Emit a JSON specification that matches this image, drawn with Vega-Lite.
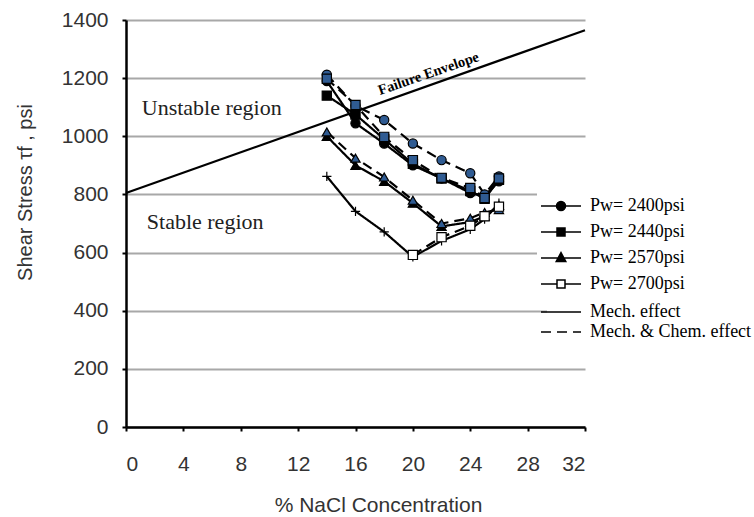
{
  "$schema": "https://vega.github.io/schema/vega-lite/v6.json",
  "autosize": {"type": "none"},
  "padding": {"left": 126, "top": 20, "right": 169, "bottom": 90},
  "width": 459,
  "height": 407,
  "background": "white",
  "config": {
    "view": {"stroke": null},
    "font": "Liberation Sans"
  },
  "layer": [
    {
      "data": {"values": [{"x": 0, "y": 805}, {"x": 32, "y": 1365}]},
      "mark": {"type": "line", "color": "black", "strokeWidth": 2.2},
      "encoding": {
        "x": {
          "field": "x", "type": "quantitative",
          "scale": {"domain": [0, 32], "nice": false},
          "axis": {
            "values": [0, 4, 8, 12, 16, 20, 24, 28, 32],
            "grid": false,
            "domainColor": "black", "domainWidth": 2.5,
            "tickColor": "black", "tickWidth": 2, "tickSize": 4,
            "labelFont": "Liberation Sans", "labelFontSize": 21, "labelColor": "#333", "labelPadding": 22,
            "title": "% NaCl Concentration",
            "titleFont": "Liberation Sans", "titleFontSize": 21, "titleFontWeight": "normal", "titleColor": "#333",
            "titleX": 252, "titleY": 78, "titleBaseline": "middle"
          }
        },
        "y": {
          "field": "y", "type": "quantitative",
          "scale": {"domain": [0, 1400], "nice": false},
          "axis": {
            "values": [0, 200, 400, 600, 800, 1000, 1200, 1400],
            "format": "d",
            "grid": true, "gridColor": "#a8a8a8", "gridWidth": 1.8,
            "domainColor": "black", "domainWidth": 2.5,
            "tickColor": "black", "tickWidth": 2, "tickSize": 4,
            "labelFont": "Liberation Sans", "labelFontSize": 21, "labelColor": "#333", "labelPadding": 14,
            "title": "Shear Stress  τf , psi",
            "titleFont": "Liberation Sans", "titleFontSize": 20, "titleFontWeight": "normal", "titleColor": "#333",
            "titleX": -101, "titleY": 172, "titleBaseline": "middle", "titleAngle": -90
          }
        }
      }
    },
    {
      "data": {"name": "series"},
      "mark": {"type": "line", "strokeWidth": 2.2},
      "encoding": {
        "x": {"field": "x", "type": "quantitative"},
        "y": {"field": "y", "type": "quantitative"},
        "detail": {"field": "series"},
        "color": {
          "field": "pressure", "type": "nominal",
          "scale": {"domain": ["Pw= 2400psi", "Pw= 2440psi", "Pw= 2570psi", "Pw= 2700psi"], "range": ["black", "black", "black", "black"]},
          "legend": {
            "orient": "none", "legendX": 411, "legendY": 162,
            "title": null,
            "symbolSize": 400, "symbolStrokeWidth": 1.5,
            "labelFont": "Liberation Serif", "labelFontSize": 18, "labelColor": "black", "labelLimit": 300,
            "rowPadding": 6, "labelOffset": 18,
            "fillColor": "white", "padding": 13,
            "encode": {
              "symbols": {
                "update": {
                  "shape": {"signal": "datum.value === 'Pw= 2400psi' ? 'M-2,0H2M0.45,0A0.45,0.45,0,1,1,-0.45,0A0.45,0.45,0,1,1,0.45,0Z' : datum.value === 'Pw= 2440psi' ? 'M-2,0H2M-0.4,-0.4H0.4V0.4H-0.4Z' : datum.value === 'Pw= 2570psi' ? 'M-2,0H2M0,-0.54L0.48,0.36H-0.48Z' : 'M-2,0H-0.4M0.4,0H2M-0.4,-0.4H0.4V0.4H-0.4Z'"},
                  "fill": {"signal": "datum.value === 'Pw= 2700psi' ? 'white' : 'black'"},
                  "stroke": {"value": "black"},
                  "strokeWidth": {"value": 1.5},
                  "opacity": {"value": 1}
                }
              }
            }
          }
        },
        "strokeDash": {
          "field": "effect", "type": "nominal",
          "scale": {"domain": ["Mech. effect", "Mech. & Chem. effect"], "range": [[1, 0], [10, 6]]},
          "legend": {
            "orient": "none", "legendX": 421, "legendY": 278,
            "title": null,
            "symbolType": "M-2,0H2", "symbolSize": 400, "symbolStrokeWidth": 1.6, "symbolStrokeColor": "black", "symbolFillColor": "transparent",
            "labelFont": "Liberation Serif", "labelFontSize": 18, "labelColor": "black", "labelLimit": 300,
            "rowPadding": 0, "labelOffset": 18,
            "fillColor": "white", "padding": 3
          }
        }
      }
    },
    {
      "data": {"name": "series"},
      "mark": {"type": "point", "filled": true, "size": 85, "stroke": "black", "strokeWidth": 1.2, "opacity": 1},
      "encoding": {
        "x": {"field": "x", "type": "quantitative"},
        "y": {"field": "y", "type": "quantitative"},
        "shape": {
          "field": "series", "type": "nominal", "legend": null,
          "scale": {
            "domain": ["2400 Mech", "2400 MC", "2440 Mech", "2440 MC", "2570 Mech", "2570 MC", "2700 Mech", "2700 MC"],
            "range": ["circle", "circle", "square", "square", "triangle-up", "triangle-up", "M-1,0H1M0,-1V1", "square"]
          }
        },
        "fill": {
          "field": "series", "type": "nominal", "legend": null,
          "scale": {
            "domain": ["2400 Mech", "2400 MC", "2440 Mech", "2440 MC", "2570 Mech", "2570 MC", "2700 Mech", "2700 MC"],
            "range": ["black", "#2f5b92", "black", "#2f5b92", "black", "#2f5b92", "transparent", "white"]
          }
        }
      }
    },
    {
      "data": {"values": [{"label": "Unstable  region", "x": 1.1, "y": 1097}, {"label": "Stable  region", "x": 1.45, "y": 705}]},
      "mark": {"type": "text", "align": "left", "baseline": "middle", "font": "Liberation Serif", "fontSize": 22, "color": "#222"},
      "encoding": {
        "x": {"field": "x", "type": "quantitative"},
        "y": {"field": "y", "type": "quantitative"},
        "text": {"field": "label"}
      }
    },
    {
      "data": {"values": [{"label": "Failure Envelope", "x": 21.1, "y": 1214}]},
      "mark": {"type": "text", "align": "center", "baseline": "middle", "font": "Liberation Serif", "fontSize": 14.5, "fontWeight": "bold", "angle": -19, "color": "black"},
      "encoding": {
        "x": {"field": "x", "type": "quantitative"},
        "y": {"field": "y", "type": "quantitative"},
        "text": {"field": "label"}
      }
    }
  ],
  "datasets": {
    "series": [
      {"series": "2400 Mech", "pressure": "Pw= 2400psi", "effect": "Mech. effect", "x": 14, "y": 1190},
      {"series": "2400 Mech", "pressure": "Pw= 2400psi", "effect": "Mech. effect", "x": 16, "y": 1045},
      {"series": "2400 Mech", "pressure": "Pw= 2400psi", "effect": "Mech. effect", "x": 18, "y": 975},
      {"series": "2400 Mech", "pressure": "Pw= 2400psi", "effect": "Mech. effect", "x": 20, "y": 900},
      {"series": "2400 Mech", "pressure": "Pw= 2400psi", "effect": "Mech. effect", "x": 22, "y": 855},
      {"series": "2400 Mech", "pressure": "Pw= 2400psi", "effect": "Mech. effect", "x": 24, "y": 805},
      {"series": "2400 Mech", "pressure": "Pw= 2400psi", "effect": "Mech. effect", "x": 25, "y": 795},
      {"series": "2400 Mech", "pressure": "Pw= 2400psi", "effect": "Mech. effect", "x": 26, "y": 845},
      {"series": "2440 Mech", "pressure": "Pw= 2440psi", "effect": "Mech. effect", "x": 14, "y": 1140},
      {"series": "2440 Mech", "pressure": "Pw= 2440psi", "effect": "Mech. effect", "x": 16, "y": 1075},
      {"series": "2440 Mech", "pressure": "Pw= 2440psi", "effect": "Mech. effect", "x": 18, "y": 990},
      {"series": "2440 Mech", "pressure": "Pw= 2440psi", "effect": "Mech. effect", "x": 20, "y": 905},
      {"series": "2440 Mech", "pressure": "Pw= 2440psi", "effect": "Mech. effect", "x": 22, "y": 855},
      {"series": "2440 Mech", "pressure": "Pw= 2440psi", "effect": "Mech. effect", "x": 24, "y": 812},
      {"series": "2440 Mech", "pressure": "Pw= 2440psi", "effect": "Mech. effect", "x": 25, "y": 785},
      {"series": "2440 Mech", "pressure": "Pw= 2440psi", "effect": "Mech. effect", "x": 26, "y": 850},
      {"series": "2570 Mech", "pressure": "Pw= 2570psi", "effect": "Mech. effect", "x": 14, "y": 1000},
      {"series": "2570 Mech", "pressure": "Pw= 2570psi", "effect": "Mech. effect", "x": 16, "y": 900},
      {"series": "2570 Mech", "pressure": "Pw= 2570psi", "effect": "Mech. effect", "x": 18, "y": 845},
      {"series": "2570 Mech", "pressure": "Pw= 2570psi", "effect": "Mech. effect", "x": 20, "y": 770},
      {"series": "2570 Mech", "pressure": "Pw= 2570psi", "effect": "Mech. effect", "x": 22, "y": 690},
      {"series": "2570 Mech", "pressure": "Pw= 2570psi", "effect": "Mech. effect", "x": 24, "y": 705},
      {"series": "2570 Mech", "pressure": "Pw= 2570psi", "effect": "Mech. effect", "x": 25, "y": 725},
      {"series": "2570 Mech", "pressure": "Pw= 2570psi", "effect": "Mech. effect", "x": 26, "y": 762},
      {"series": "2700 Mech", "pressure": "Pw= 2700psi", "effect": "Mech. effect", "x": 14, "y": 862},
      {"series": "2700 Mech", "pressure": "Pw= 2700psi", "effect": "Mech. effect", "x": 16, "y": 742},
      {"series": "2700 Mech", "pressure": "Pw= 2700psi", "effect": "Mech. effect", "x": 18, "y": 671},
      {"series": "2700 Mech", "pressure": "Pw= 2700psi", "effect": "Mech. effect", "x": 20, "y": 585},
      {"series": "2700 Mech", "pressure": "Pw= 2700psi", "effect": "Mech. effect", "x": 22, "y": 640},
      {"series": "2700 Mech", "pressure": "Pw= 2700psi", "effect": "Mech. effect", "x": 24, "y": 680},
      {"series": "2700 Mech", "pressure": "Pw= 2700psi", "effect": "Mech. effect", "x": 25, "y": 715},
      {"series": "2700 Mech", "pressure": "Pw= 2700psi", "effect": "Mech. effect", "x": 26, "y": 770},
      {"series": "2400 MC", "pressure": "Pw= 2400psi", "effect": "Mech. & Chem. effect", "x": 14, "y": 1212},
      {"series": "2400 MC", "pressure": "Pw= 2400psi", "effect": "Mech. & Chem. effect", "x": 16, "y": 1105},
      {"series": "2400 MC", "pressure": "Pw= 2400psi", "effect": "Mech. & Chem. effect", "x": 18, "y": 1056},
      {"series": "2400 MC", "pressure": "Pw= 2400psi", "effect": "Mech. & Chem. effect", "x": 20, "y": 975},
      {"series": "2400 MC", "pressure": "Pw= 2400psi", "effect": "Mech. & Chem. effect", "x": 22, "y": 918},
      {"series": "2400 MC", "pressure": "Pw= 2400psi", "effect": "Mech. & Chem. effect", "x": 24, "y": 873},
      {"series": "2400 MC", "pressure": "Pw= 2400psi", "effect": "Mech. & Chem. effect", "x": 25, "y": 800},
      {"series": "2400 MC", "pressure": "Pw= 2400psi", "effect": "Mech. & Chem. effect", "x": 26, "y": 862},
      {"series": "2440 MC", "pressure": "Pw= 2440psi", "effect": "Mech. & Chem. effect", "x": 14, "y": 1198},
      {"series": "2440 MC", "pressure": "Pw= 2440psi", "effect": "Mech. & Chem. effect", "x": 16, "y": 1108},
      {"series": "2440 MC", "pressure": "Pw= 2440psi", "effect": "Mech. & Chem. effect", "x": 18, "y": 998},
      {"series": "2440 MC", "pressure": "Pw= 2440psi", "effect": "Mech. & Chem. effect", "x": 20, "y": 918},
      {"series": "2440 MC", "pressure": "Pw= 2440psi", "effect": "Mech. & Chem. effect", "x": 22, "y": 857},
      {"series": "2440 MC", "pressure": "Pw= 2440psi", "effect": "Mech. & Chem. effect", "x": 24, "y": 822},
      {"series": "2440 MC", "pressure": "Pw= 2440psi", "effect": "Mech. & Chem. effect", "x": 25, "y": 788},
      {"series": "2440 MC", "pressure": "Pw= 2440psi", "effect": "Mech. & Chem. effect", "x": 26, "y": 855},
      {"series": "2570 MC", "pressure": "Pw= 2570psi", "effect": "Mech. & Chem. effect", "x": 14, "y": 1015},
      {"series": "2570 MC", "pressure": "Pw= 2570psi", "effect": "Mech. & Chem. effect", "x": 16, "y": 925},
      {"series": "2570 MC", "pressure": "Pw= 2570psi", "effect": "Mech. & Chem. effect", "x": 18, "y": 860},
      {"series": "2570 MC", "pressure": "Pw= 2570psi", "effect": "Mech. & Chem. effect", "x": 20, "y": 780},
      {"series": "2570 MC", "pressure": "Pw= 2570psi", "effect": "Mech. & Chem. effect", "x": 22, "y": 700},
      {"series": "2570 MC", "pressure": "Pw= 2570psi", "effect": "Mech. & Chem. effect", "x": 24, "y": 718},
      {"series": "2570 MC", "pressure": "Pw= 2570psi", "effect": "Mech. & Chem. effect", "x": 25, "y": 738},
      {"series": "2570 MC", "pressure": "Pw= 2570psi", "effect": "Mech. & Chem. effect", "x": 26, "y": 748},
      {"series": "2700 MC", "pressure": "Pw= 2700psi", "effect": "Mech. & Chem. effect", "x": 20, "y": 592},
      {"series": "2700 MC", "pressure": "Pw= 2700psi", "effect": "Mech. & Chem. effect", "x": 22, "y": 653},
      {"series": "2700 MC", "pressure": "Pw= 2700psi", "effect": "Mech. & Chem. effect", "x": 24, "y": 692},
      {"series": "2700 MC", "pressure": "Pw= 2700psi", "effect": "Mech. & Chem. effect", "x": 25, "y": 725},
      {"series": "2700 MC", "pressure": "Pw= 2700psi", "effect": "Mech. & Chem. effect", "x": 26, "y": 758}
    ]
  }
}
